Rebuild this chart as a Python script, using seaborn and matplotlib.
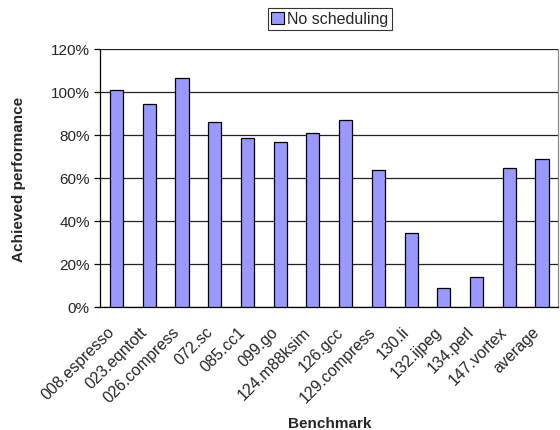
import numpy as np
import pandas as pd
import matplotlib
matplotlib.use("Agg")
import matplotlib.pyplot as plt
import matplotlib.transforms as mtransforms
import seaborn as sns
from matplotlib.ticker import FuncFormatter, FixedLocator

benchmarks = ["008.espresso", "023.eqntott", "026.compress", "072.sc", "085.cc1",
              "099.go", "124.m88ksim", "126.gcc", "129.compress", "130.li",
              "132.ijpeg", "134.perl", "147.vortex", "average"]
no_scheduling = [1.01, 0.943, 1.064, 0.862, 0.784, 0.766, 0.809, 0.870,
                 0.637, 0.344, 0.090, 0.140, 0.648, 0.690]
series_name = "No scheduling"
y_ticks = [0, 0.2, 0.4, 0.6, 0.8, 1.0, 1.2]

df = pd.DataFrame({"Benchmark": benchmarks, "perf": no_scheduling, "series": series_name})

sns.set_style("white")
plt.rcParams["font.family"] = ["Liberation Sans", "DejaVu Sans"]

fig = plt.figure(figsize=(5.6, 4.31), dpi=100)
ax = fig.add_axes([0.179, 0.2854, 0.818, 0.5986])

sns.barplot(data=df, x="Benchmark", y="perf", hue="series", ax=ax,
            palette=["#9999FF"], saturation=1, edgecolor="black", linewidth=0.9,
            width=0.4, legend=False, zorder=3)

ax.set_ylim(0, 1.2)
ax.set_xlim(-0.5, len(benchmarks) - 0.5)
ax.yaxis.set_major_locator(FixedLocator(y_ticks))
ax.yaxis.set_major_formatter(FuncFormatter(lambda v, p: f"{v*100:.0f}%"))
ax.grid(axis="y", color="#222222", linewidth=0.9, zorder=0)
ax.set_axisbelow(True)

# category boundaries carry the tick marks, labels sit at category centres
ax.set_xticks(np.arange(len(benchmarks)))
ax.set_xticklabels(benchmarks, rotation=45, ha="right", rotation_mode="anchor", fontsize=11.5)
ax.set_xticks(np.arange(-0.5, len(benchmarks) + 0.5, 1), minor=True)
ax.tick_params(axis="x", which="major", length=0, pad=12)
ax.tick_params(axis="x", which="minor", length=4, width=0.9, color="black", direction="out")
ax.tick_params(axis="y", which="major", length=4, width=0.9, color="black",
               direction="out", labelsize=11, left=True)

shift = mtransforms.ScaledTranslation(-10 / 100, 0, fig.dpi_scale_trans)
for lbl in ax.get_xticklabels():
    lbl.set_transform(lbl.get_transform() + shift)

for side in ("left", "bottom"):
    ax.spines[side].set_color("black")
    ax.spines[side].set_linewidth(0.9)
ax.spines["top"].set_visible(False)
ax.spines["right"].set_color("#888888")
ax.spines["right"].set_linewidth(0.9)

ax.set_ylabel("Achieved performance", fontsize=11, fontweight="bold")
ax.yaxis.set_label_coords(-0.163, 0.5)
ax.set_xlabel("Benchmark", fontsize=11, fontweight="bold")
ax.xaxis.set_label_coords(0.5, -0.422)

handle = plt.Rectangle((0, 0), 1, 1, facecolor="#9999FF", edgecolor="black", linewidth=0.8)
leg = fig.legend([handle], [series_name], loc="center", bbox_to_anchor=(0.589, 0.954),
                 fontsize=11.5, frameon=True, fancybox=False, edgecolor="black",
                 handlelength=0.8, handleheight=0.8, handletextpad=0.2,
                 borderpad=0.2, borderaxespad=0)
leg.get_frame().set_linewidth(0.8)

fig.savefig("out.png", dpi=100)
